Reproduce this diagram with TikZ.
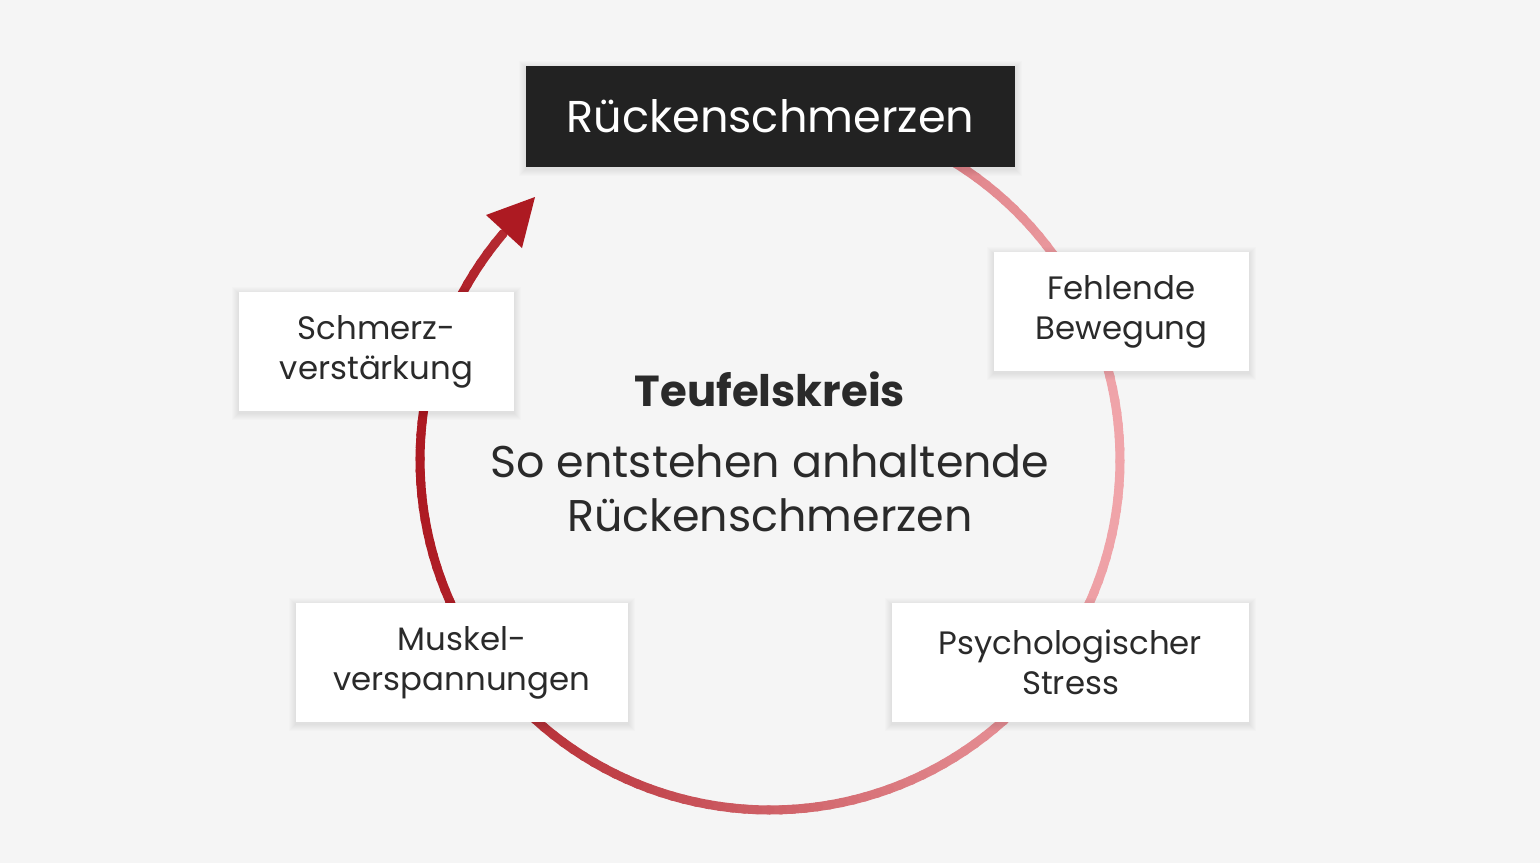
\documentclass[tikz,border=0pt]{standalone}
\usepackage{fontspec}
\setmainfont{Poppins}
\definecolor{bg}{HTML}{F5F5F5}
\definecolor{boxdark}{HTML}{222222}
\definecolor{txt}{HTML}{2A2A2A}
\definecolor{arcdark}{HTML}{AD1A22}
\definecolor{arclight}{HTML}{F0A5AA}
\pgfdeclarelayer{bottom}
\pgfdeclarelayer{shadow}
\pgfsetlayers{bottom,shadow,main}
\tikzset{
  card/.style={fill=white, draw=none, align=center, text=txt, font=\fontsize{16.2}{20}\selectfont,
    inner sep=0pt, minimum height=59.5pt},
  titlebox/.style={fill=boxdark, draw=none, text=white, font=\fontsize{22.3}{27}\selectfont,
    inner sep=0pt, minimum width=244.5pt, minimum height=50.5pt},
}
\newcommand{\softshade}[1]{%
  \begin{pgfonlayer}{shadow}
    \foreach \k in {1,...,7} {
      \fill[black, opacity=0.012]
        ([xshift=-\k*0.5pt, yshift=\k*0.5pt-1pt]#1.north west) rectangle
        ([xshift=\k*0.5pt, yshift=-\k*0.5pt-1pt]#1.south east);
    }
  \end{pgfonlayer}}
\begin{document}
\begin{tikzpicture}[x=0.5pt,y=-0.5pt]
\begin{pgfonlayer}{bottom}
\fill[bg] (0,0) rectangle (1540,863);
% gradient ring
\foreach \a in {80,78,...,-218} {
  \pgfmathsetmacro{\p}{50*(1-cos(\a))}
  \pgfmathsetmacro{\b}{max(\a-2.4,-220.7)}
  \draw[line width=4.5pt, line cap=round, color=arcdark!\p!arclight]
    ({770+350*cos(\a)},{460-350*sin(\a)}) -- ({770+350*cos(\b)},{460-350*sin(\b)});
}
\coordinate (tip) at (535,197);
\coordinate (bl) at (486,215);
\coordinate (br) at (522,248);
\fill[arcdark] (tip) -- (bl) -- (br) -- cycle;
\end{pgfonlayer}
\useasboundingbox (0,0) rectangle (1540,863);
% boxes
\node[titlebox] (top) at (770.5,116.5) {Rückenschmerzen};
\node[card, minimum width=127.5pt] (fb) at (1121.5,311.5) {Fehlende\\Bewegung};
\node[card, minimum width=137.5pt] (sv) at (376.5,351.5) {Schmerz-\\verstärkung};
\node[card, minimum width=166pt] (mv) at (462,662.5) {Muskel-\\verspannungen};
\node[card, minimum width=178.5pt] (ps) at (1070.5,662.5) {Psychologischer\\Stress};
\softshade{top}
\softshade{fb}
\softshade{sv}
\softshade{mv}
\softshade{ps}
% center text
\node[text=txt, font=\bfseries\fontsize{21.7}{26}\selectfont, anchor=base] (tk) at (770,406) {Teufelskreis};
\node[text=txt, font=\fontsize{22.2}{27}\selectfont, align=center, anchor=base] (sub) at (770,531) {So entstehen anhaltende\\Rückenschmerzen};
\end{tikzpicture}
\end{document}
